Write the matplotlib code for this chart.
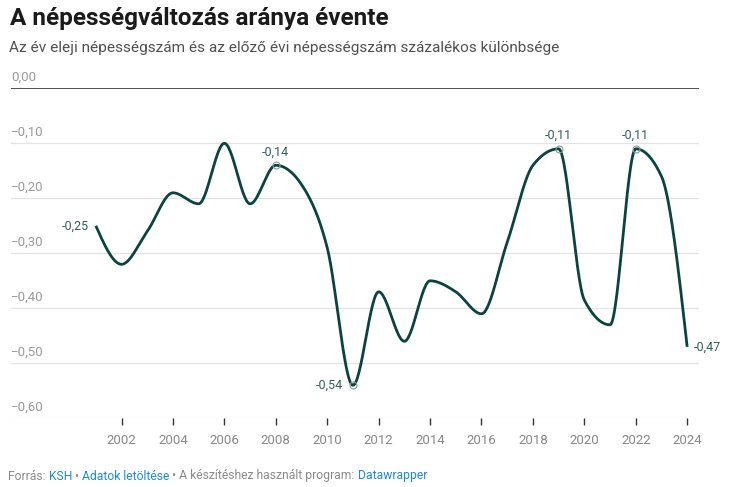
import numpy as np
import matplotlib.pyplot as plt

plt.rcParams['font.family'] = ['Roboto', 'DejaVu Sans']

# data
years = np.arange(2001, 2025)
values = [-0.25, -0.32, -0.26, -0.19, -0.21, -0.10, -0.21, -0.14, -0.175, -0.29,
          -0.54, -0.37, -0.46, -0.35, -0.37, -0.41, -0.28, -0.14, -0.11, -0.385,
          -0.43, -0.11, -0.16, -0.47]
marked_years = [2008, 2011, 2019, 2022]
yticks = [0, -0.1, -0.2, -0.3, -0.4, -0.5, -0.6]
xticks = list(range(2002, 2025, 2))

line_col = '#0b4340'
label_col = '#2f5f5b'
grey = '#9a9a9a'


def monotone_x(x, y, n=30):
    # Steffen-style monotone cubic, like d3.curveMonotoneX
    x = np.asarray(x, float)
    y = np.asarray(y, float)
    h = np.diff(x)
    s = np.diff(y) / h
    t = np.zeros_like(y)
    for i in range(1, len(y) - 1):
        p = (s[i - 1] * h[i] + s[i] * h[i - 1]) / (h[i - 1] + h[i])
        t[i] = (np.sign(s[i - 1]) + np.sign(s[i])) * min(abs(s[i - 1]), abs(s[i]), 0.5 * abs(p))
    t[0] = (3 * s[0] - t[1]) / 2 if len(y) > 2 else s[0]
    t[-1] = (3 * s[-1] - t[-2]) / 2 if len(y) > 2 else s[-1]
    xs, ys = [], []
    for i in range(len(h)):
        u = np.linspace(0, 1, n, endpoint=False)
        h00 = 2 * u**3 - 3 * u**2 + 1
        h10 = u**3 - 2 * u**2 + u
        h01 = -2 * u**3 + 3 * u**2
        h11 = u**3 - u**2
        xs.append(x[i] + u * h[i])
        ys.append(h00 * y[i] + h10 * h[i] * t[i] + h01 * y[i + 1] + h11 * h[i] * t[i + 1])
    xs.append([x[-1]])
    ys.append([y[-1]])
    return np.concatenate(xs), np.concatenate(ys)


fig = plt.figure(figsize=(7.39, 4.87), dpi=100)
ax = fig.add_axes([11 / 739, 1 - 418.3 / 487, 688 / 739, 330 / 487])

ax.set_xlim(1997.7, 2024.46)
ax.set_ylim(-0.6, 0)

for v in yticks:
    if v == 0:
        ax.axhline(v, color='#222222', lw=1.1, zorder=2)
    else:
        ax.axhline(v, color='#e3e3e3', lw=0.9, zorder=1)
    lab = ('%.2f' % v).replace('.', ',').replace('-', '\u2212')
    ax.annotate(lab, xy=(0, v), xycoords=('axes fraction', 'data'), xytext=(0, 3),
                textcoords='offset points', ha='left', va='bottom', fontsize=9.5, color=grey)

xs, ys = monotone_x(years, values)
ax.plot(xs, ys, color=line_col, lw=2.0, zorder=3, solid_capstyle='butt')

for yr in marked_years:
    v = values[yr - 2001]
    ax.plot(yr, v, 'o', ms=5, mfc='none', mec='#8a9a98', mew=0.8, zorder=4)


def fmt(v):
    return ('%.2f' % v).replace('.', ',')


ax.annotate(fmt(values[0]), (years[0], values[0]), xytext=(-5, 0), textcoords='offset points',
            ha='right', va='center', fontsize=9, color=label_col)
ax.annotate(fmt(values[-1]), (years[-1], values[-1]), xytext=(5, 0), textcoords='offset points',
            ha='left', va='center', fontsize=9, color=label_col)
ax.annotate(fmt(values[2011 - 2001]), (2011, values[2011 - 2001]), xytext=(-7, 0),
            textcoords='offset points', ha='right', va='center', fontsize=9, color=label_col)
for yr in [2008, 2019, 2022]:
    v = values[yr - 2001]
    ax.annotate(fmt(v), (yr, v), xytext=(0, 5), textcoords='offset points',
                ha='center', va='bottom', fontsize=9, color=label_col)

ax.set_xticks(xticks)
ax.set_xticklabels([str(t) for t in xticks], fontsize=9.5, color='#888888')
ax.tick_params(axis='x', length=5, width=1, color='#333333', pad=6)
ax.set_yticks([])
for sp in ax.spines.values():
    sp.set_visible(False)

fig.text(10 / 739, 1 - 18 / 487, 'A népességváltozás aránya évente', fontsize=17.5, fontweight='bold',
         color='#1a1a1a', va='center', ha='left')
fig.text(9 / 739, 1 - 48 / 487, 'Az év eleji népességszám és az előző évi népességszám százalékos különbsége',
         fontsize=11.1, color='#505050', va='center', ha='left')

# footer with coloured link parts
parts = [('Forrás: ', '#8a8a8a'), ('KSH', '#1c8ad0'), (' • ', '#8a8a8a'),
         ('Adatok letöltése', '#1c8ad0'), (' • A készítéshez használt program: ', '#8a8a8a'),
         ('Datawrapper', '#1c8ad0')]
fig.canvas.draw()
x0 = 8 / 739
renderer = fig.canvas.get_renderer()
for txt, col in parts:
    t = fig.text(x0, 1 - 476 / 487, txt, fontsize=8.75, color=col, va='center', ha='left')
    bb = t.get_window_extent(renderer=renderer)
    x0 += bb.width / fig.bbox.width

fig.savefig('out.png', dpi=100)
